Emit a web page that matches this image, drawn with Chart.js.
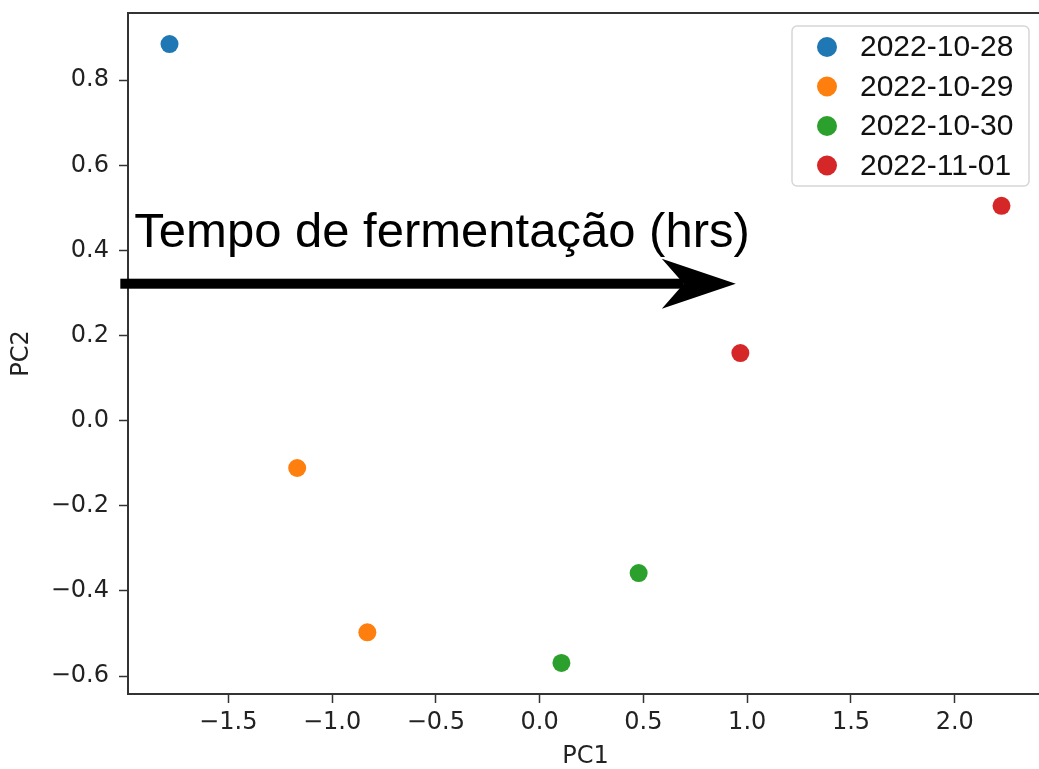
<!DOCTYPE html>
<html>
<head>
<meta charset="utf-8">
<script src="https://cdn.jsdelivr.net/npm/chart.js@4.4.0/dist/chart.umd.min.js"></script>
<style>
  html, body { margin: 0; padding: 0; background: #fff; overflow: hidden; }
  #wrap { width: 1039px; height: 769px; overflow: hidden; }
  #pca { display: block; }
</style>
</head>
<body>
<div id="wrap"><canvas id="pca" width="1060" height="769"></canvas></div>
<script>
// PCA scores per fermentation day
const dates = ['2022-10-28', '2022-10-29', '2022-10-30', '2022-11-01'];
const colors = ['#1f77b4', '#ff7f0e', '#2ca02c', '#d62728'];
const pc1 = [
  [-1.783],
  [-1.168, -0.830],
  [0.105, 0.477],
  [0.967, 2.225]
];
const pc2 = [
  [0.885],
  [-0.111, -0.497],
  [-0.569, -0.358],
  [0.159, 0.505]
];
const xTicks = [-1.5, -1.0, -0.5, 0.0, 0.5, 1.0, 1.5, 2.0];
const yTicks = [-0.6, -0.4, -0.2, 0.0, 0.2, 0.4, 0.6, 0.8];

// annotation arrow (data units)
const arrowLabel = 'Tempo de fermentação (hrs)';
const arrowFrom = [-2.02, 0.322];
const arrowTo = [0.945, 0.322];

const tickFont = { family: 'DejaVu Sans', size: 24 };
const ink = '#222';

const fmt = v => v.toFixed(1).replace('-', '\u2212');

const datasets = dates.map((d, i) => ({
  label: d,
  data: pc1[i].map((x, j) => ({ x: x, y: pc2[i][j] })),
  backgroundColor: colors[i],
  borderWidth: 0,
  pointRadius: 9,
  pointHoverRadius: 9
}));

// top and right spines
const frame = {
  id: 'frame',
  afterDraw(chart) {
    const { ctx, chartArea: a } = chart;
    ctx.save();
    ctx.strokeStyle = '#333';
    ctx.lineWidth = 2;
    ctx.beginPath();
    ctx.moveTo(a.left, a.top);
    ctx.lineTo(a.right, a.top);
    ctx.lineTo(a.right, a.bottom);
    ctx.stroke();
    ctx.restore();
  }
};

// arrow with caption
const arrow = {
  id: 'arrow',
  afterDraw(chart) {
    const { ctx } = chart;
    const sx = chart.scales.x, sy = chart.scales.y;
    const x0 = sx.getPixelForValue(arrowFrom[0]);
    const y0 = sy.getPixelForValue(arrowFrom[1]);
    const x1 = sx.getPixelForValue(arrowTo[0]);
    const y1 = sy.getPixelForValue(arrowTo[1]);
    const headLen = 74, headHalf = 25, notch = 52;
    ctx.save();
    ctx.fillStyle = '#000';
    ctx.fillRect(x0, y0 - 5, (x1 - notch) - x0, 10);
    ctx.beginPath();
    ctx.moveTo(x1, y1);
    ctx.lineTo(x1 - headLen, y1 - headHalf);
    ctx.lineTo(x1 - notch, y1);
    ctx.lineTo(x1 - headLen, y1 + headHalf);
    ctx.closePath();
    ctx.fill();
    ctx.font = '49px "Liberation Sans", Arial, sans-serif';
    ctx.textBaseline = 'alphabetic';
    ctx.textAlign = 'left';
    ctx.fillText(arrowLabel, x0 + 14, y0 - 37);
    ctx.restore();
  }
};

// boxed legend in the upper right corner
const boxLegend = {
  id: 'boxLegend',
  afterDraw(chart) {
    const { ctx } = chart;
    const left = 792, top = 26, w = 237, h = 160, r = 5;
    ctx.save();
    ctx.fillStyle = 'rgba(255,255,255,0.85)';
    ctx.strokeStyle = '#d6d6d6';
    ctx.lineWidth = 1.5;
    ctx.beginPath();
    ctx.roundRect(left, top, w, h, r);
    ctx.fill();
    ctx.stroke();
    ctx.font = '30px "Liberation Sans", Arial, sans-serif';
    ctx.textBaseline = 'middle';
    chart.data.datasets.forEach((ds, i) => {
      const cy = top + 21 + i * 39.5;
      ctx.fillStyle = ds.backgroundColor;
      ctx.beginPath();
      ctx.arc(left + 35, cy, 10, 0, Math.PI * 2);
      ctx.fill();
      ctx.fillStyle = '#111';
      ctx.fillText(ds.label, left + 68, cy + 1);
    });
    ctx.restore();
  }
};

const ctx = document.getElementById('pca').getContext('2d');
new Chart(ctx, {
  type: 'scatter',
  data: { datasets: datasets },
  options: {
    responsive: false,
    animation: false,
    devicePixelRatio: 1,
    // canvas is wider than the page, so the right spine falls just outside
    layout: { padding: { top: 13, right: 17, bottom: 0, left: 0 } },
    plugins: {
      legend: { display: false },
      tooltip: { enabled: false }
    },
    scales: {
      x: {
        type: 'linear',
        min: -1.983,
        max: 2.425,
        afterBuildTicks: s => { s.ticks = xTicks.map(v => ({ value: v })); },
        afterFit: s => { s.height = 75; s.paddingLeft = 0; s.paddingRight = 0; },
        ticks: { font: tickFont, color: ink, padding: 5, callback: fmt, maxRotation: 0, autoSkip: false },
        grid: { drawOnChartArea: false, drawTicks: true, tickLength: 9, tickWidth: 1.5, tickColor: '#333' },
        border: { display: true, color: '#333', width: 2 },
        title: { display: true, text: 'PC1', font: { family: 'DejaVu Sans', size: 24, lineHeight: 1 }, color: ink, padding: { top: 0, bottom: 0 } }
      },
      y: {
        type: 'linear',
        min: -0.642,
        max: 0.958,
        afterBuildTicks: s => { s.ticks = yTicks.map(v => ({ value: v })); },
        afterFit: s => { s.width = 128; s.paddingTop = 0; s.paddingBottom = 0; },
        ticks: { font: tickFont, color: ink, padding: 10, callback: fmt, autoSkip: false },
        grid: { drawOnChartArea: false, drawTicks: true, tickLength: 9, tickWidth: 1.5, tickColor: '#333' },
        border: { display: true, color: '#333', width: 2 },
        title: { display: true, text: 'PC2', font: { family: 'DejaVu Sans', size: 24, lineHeight: 1 }, color: ink, padding: { top: 10, bottom: 0 } }
      }
    }
  },
  plugins: [frame, arrow, boxLegend]
});
</script>
</body>
</html>
